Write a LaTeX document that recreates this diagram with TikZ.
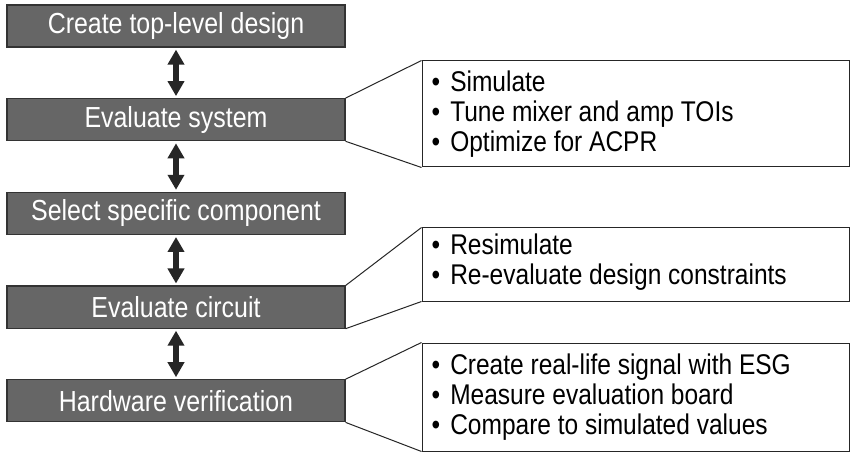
\documentclass[tikz,border=0pt]{standalone}
\usepackage{fontspec}
\setmainfont{Liberation Sans}[FakeStretch=0.86]
\usetikzlibrary{positioning,arrows.meta}
\definecolor{stagegray}{HTML}{666666}
\definecolor{linkgray}{HTML}{262626}
\tikzset{
  stagebox/.style={draw=black!80, line width=1.2pt, fill=stagegray, text=white, minimum width=338pt, minimum height=42pt, inner sep=0pt, font=\fontsize{29}{30}\selectfont},
  notebox/.style={draw=black!85, line width=1pt, fill=white, minimum width=427pt, inner sep=0pt},
  notetext/.style={align=left, inner sep=0pt, anchor=west, font=\fontsize{28.5}{30}\selectfont},
  link/.style={{Triangle[width=16pt,length=15pt]}-{Triangle[width=16pt,length=15pt]}, line width=6pt, draw=linkgray, shorten >=2pt, shorten <=2pt},
  callout/.style={line width=1pt, draw=black!85}
}
\newcommand{\bul}{\textbullet\hspace{10pt}}

\begin{document}
\begin{tikzpicture}[x=1pt, y=-1pt]
			\fill[white] (0,0) rectangle (859,454);
			\useasboundingbox (0,0) rectangle (859,454);
			% design flow
			\node[stagebox] (top) at (176,26) {Create top-level design};
			\node[stagebox, below=50.5pt of top] (sys) {Evaluate system};
			\node[stagebox, below=50.5pt of sys] (comp) {Select specific component};
			\node[stagebox, below=50.5pt of comp] (circ) {Evaluate circuit};
			\node[stagebox, below=50.5pt of circ] (hw) {Hardware verification};
			\draw[link] (top) -- (sys);
			\draw[link] (sys) -- (comp);
			\draw[link] (comp) -- (circ);
			\draw[link] (circ) -- (hw);
			% notes
			\node[notebox, minimum height=106pt] (simbox) at (635.5,114) {};
			\node[notebox, minimum height=73pt] (circbox) at (635.5,264.5) {};
			\node[notebox, minimum height=108pt] (hwbox) at (635.5,397) {};
			\node[notetext] (simtext) at ([xshift=10pt]simbox.west) {\bul Simulate\\\bul Tune mixer and amp TOIs\\\bul Optimize for ACPR};
			\node[notetext] (circtext) at ([xshift=10pt, yshift=2pt]circbox.west) {\bul Resimulate\\\bul Re-evaluate design constraints};
			\node[notetext] (hwtext) at ([xshift=10pt]hwbox.west) {\bul Create real-life signal with ESG\\\bul Measure evaluation board\\\bul Compare to simulated values};
			\draw[callout] (sys.north east) -- (simbox.north west);
			\draw[callout] (sys.south east) -- (simbox.south west);
			\draw[callout] (circ.north east) -- (circbox.north west);
			\draw[callout] (circ.south east) -- (circbox.south west);
			\draw[callout] (hw.north east) -- (hwbox.north west);
			\draw[callout] (hw.south east) -- (hwbox.south west);
\end{tikzpicture}
\end{document}
